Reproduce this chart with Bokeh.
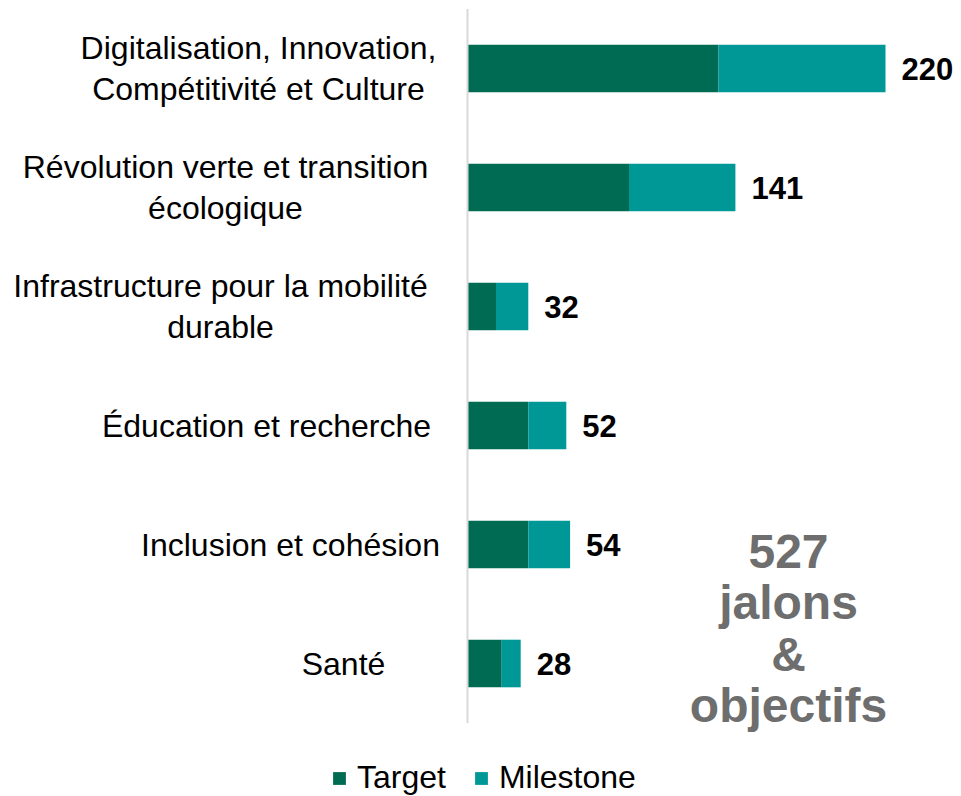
from bokeh.plotting import figure
from bokeh.models import ColumnDataSource, Range1d, Label, Legend, LegendItem
from bokeh.core.properties import value
from bokeh.embed import file_html
from bokeh.resources import INLINE

# ---- data ----
categories = [
    "Digitalisation, Innovation,\nCompétitivité et Culture",
    "Révolution verte et transition\nécologique",
    "Infrastructure pour la mobilité\ndurable",
    "Éducation et recherche",
    "Inclusion et cohésion",
    "Santé",
]
target = [132, 85, 15, 32, 32, 18]
milestone = [88, 56, 17, 20, 22, 10]
series_names = ["Target", "Milestone"]
summary_text = "527\njalons\n&\nobjectifs"

# ---- layout / style ----
FONT = "Liberation Sans"
C_TARGET = "#006B53"
C_MILE = "#009797"
colors = [C_TARGET, C_MILE]
W, H = 961, 796
AXIS_PX = 467          # distance of value axis from left edge of frame
PX_PER_UNIT = 1.9      # horizontal scale
BAND_PX = 119          # height of one category band
TOP_PX = 8.5           # space above the first band
label_center_px = [-209, -242, -247, -201, -177, -124]

n = len(categories)
totals = [t + m for t, m in zip(target, milestone)]
source = ColumnDataSource(dict(
    ypos=list(range(n)),
    cat=categories,
    Target=target,
    Milestone=milestone,
    total=totals,
    total_str=[str(v) for v in totals],
    zero=[0] * n,
    lab_off=label_center_px,
))

p = figure(
    width=W, height=H,
    x_range=Range1d(-AXIS_PX / PX_PER_UNIT, (W - AXIS_PX) / PX_PER_UNIT),
    # flipped: first category at top
    y_range=Range1d(-0.5 + (H - TOP_PX) / BAND_PX, -0.5 - TOP_PX / BAND_PX),
    output_backend="svg", toolbar_location=None,
    x_axis_location=None, y_axis_location=None,
    min_border_left=0, min_border_right=0, min_border_top=0,
    min_border_bottom=0,
)
p.outline_line_color = None
p.xgrid.visible = False
p.ygrid.visible = False

renderers = p.hbar_stack(series_names, y="ypos", height=0.4, color=colors,
                         source=source, line_color=None)

# value axis line, spanning the category bands
p.segment(x0=[0], x1=[0], y0=[-0.5], y1=[n - 0.5],
          line_color="#d9d9d9", line_width=2)

# category labels
p.text(x="zero", y="ypos", text="cat", x_offset="lab_off", source=source,
       text_align="center", text_baseline="middle",
       text_font=value(FONT), text_font_size="32px", text_color="#000000",
       text_line_height=1.15)

# total labels
p.text(x="total", y="ypos", text="total_str", x_offset=16, source=source,
       text_align="left", text_baseline="middle",
       text_font=value(FONT), text_font_size="31px", text_font_style="bold",
       text_color="#000000")

# summary annotation
p.add_layout(Label(x=788, y=168, x_units="screen", y_units="screen",
                   text=summary_text, text_align="center",
                   text_baseline="middle", text_font=FONT,
                   text_font_size="48px", text_font_style="bold",
                   text_color="#6E6E6E", text_line_height=0.97))

legend = Legend(
    items=[LegendItem(label=nm, renderers=[r]) for nm, r in zip(series_names, renderers)],
    orientation="horizontal", location=(331, 0),
    label_text_font=FONT, label_text_font_size="32px", label_text_color="#000000",
    glyph_width=16, glyph_height=16, label_standoff=10, spacing=27,
    padding=0, margin=0, border_line_color=None, background_fill_alpha=0,
)
p.add_layout(legend)

open("out.html", "w").write(file_html(p, INLINE))
